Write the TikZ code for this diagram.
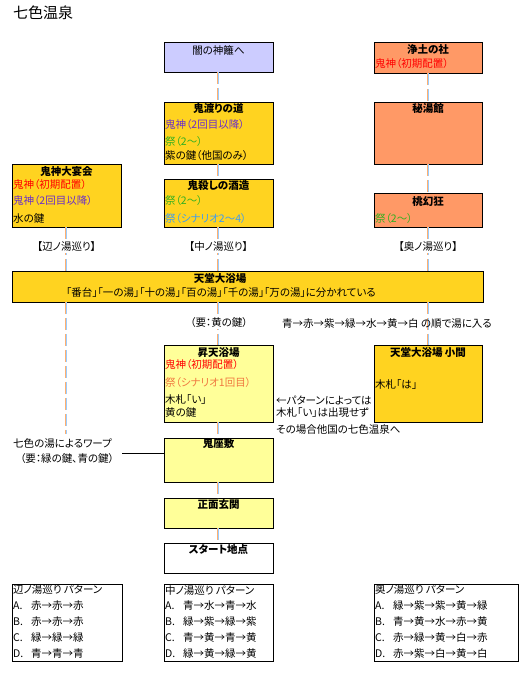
\documentclass[tikz,border=0pt]{standalone}
\usepackage{fontspec}
\setmainfont[RawFeature=+palt]{Noto Sans CJK JP}
\definecolor{gold}{HTML}{FFD320}
\definecolor{lav}{HTML}{CCCCFF}
\definecolor{salmon}{HTML}{FF9966}
\definecolor{lyel}{HTML}{FFFF99}
\definecolor{tred}{HTML}{FF0000}
\definecolor{tpur}{HTML}{6B2FC8}
\definecolor{tgrn}{HTML}{33B020}
\definecolor{tblu}{HTML}{3F9CF0}
\definecolor{torg}{HTML}{F07840}
\definecolor{corange}{HTML}{FFB070}
\definecolor{cblue}{HTML}{99CCFF}
\tikzset{
  box/.style={draw=black, line width=1pt, inner sep=0pt, outer sep=0pt, anchor=north west},
  ttl/.style={inner sep=0pt, font=\fontsize{10.5}{12}\selectfont\bfseries},
  plain/.style={inner sep=0pt, font=\fontsize{10.5}{12}\selectfont},
  ln/.style={inner sep=0pt, anchor=west, font=\fontsize{10.5}{12}\selectfont},
  lbl/.style={fill=white, inner sep=1pt, font=\fontsize{10.5}{12}\selectfont},
  lo/.style={draw=corange, line width=1pt, dash pattern=on 12pt off 4pt, transform canvas={xshift=#1}},
  lb/.style={draw=cblue, line width=1pt, dash pattern=on 12pt off 4pt, transform canvas={xshift=#1}},
}
% columns centred on x.5 (left, middle)
\newcommand\twoline[2]{\draw[lo=-1pt] #1 -- #2; \draw[lb=0pt] #1 -- #2;}
% columns centred on an integer x (right)
\newcommand\twolineR[2]{\draw[lo=-0.5pt] #1 -- #2; \draw[lb=0.5pt] #1 -- #2;}
\begin{document}
\begin{tikzpicture}[x=1pt,y=-1pt]
\useasboundingbox[fill=white] (0,0) rectangle (530,673);
% title
\node[anchor=west, inner sep=0pt, font=\fontsize{15}{17}\selectfont] (title) at (13,13) {七色温泉};

% boxes
\node[box, fill=lav, minimum width=109pt, minimum height=30pt] (yami) at (164,42) {};
\node[box, fill=gold, minimum width=109pt, minimum height=62pt] (watari) at (164,102) {};
\node[box, fill=gold, minimum width=109pt, minimum height=48pt] (sake) at (164,179) {};
\node[box, fill=gold, minimum width=109pt, minimum height=63pt] (enkai) at (12,164) {};
\node[box, fill=salmon, minimum width=108pt, minimum height=31pt] (joudo) at (374,42) {};
\node[box, fill=salmon, minimum width=108pt, minimum height=62pt] (hitou) at (374,102) {};
\node[box, fill=salmon, minimum width=108pt, minimum height=34pt] (tougen) at (374,193) {};
\node[box, fill=gold, minimum width=471pt, minimum height=31pt] (tendou) at (12,271) {};
\node[box, fill=lyel, minimum width=109pt, minimum height=77pt] (shouten) at (164,345) {};
\node[box, fill=gold, minimum width=108pt, minimum height=77pt] (koma) at (374,345) {};
\node[box, fill=lyel, minimum width=109pt, minimum height=44pt] (zashiki) at (164,438) {};
\node[box, fill=lyel, minimum width=109pt, minimum height=30pt] (genkan) at (164,498) {};
\node[box, fill=white, minimum width=109pt, minimum height=30pt] (start) at (164,543) {};
\node[box, fill=white, minimum width=110pt, minimum height=77pt] (tabA) at (12,584) {};
\node[box, fill=white, minimum width=109pt, minimum height=77pt] (tabB) at (164,584) {};
\node[box, fill=white, minimum width=144pt, minimum height=77pt] (tabC) at (374,584) {};

% connectors
\coordinate (leftend) at (66.5,434);
\twoline{(yami.south)}{(watari.north)}
\twoline{(watari.south)}{(sake.north)}
\twoline{(sake.south)}{(tendou.north -| sake.south)}
\twoline{(tendou.south -| shouten.north)}{(shouten.north)}
\twoline{(shouten.south)}{(zashiki.north)}
\twoline{(zashiki.south)}{(genkan.north)}
\twoline{(genkan.south)}{(start.north)}
\twoline{(enkai.south)}{(tendou.north -| enkai.south)}
\twoline{(tendou.south -| leftend)}{(leftend)}
\twolineR{(joudo.south)}{(hitou.north)}
\twolineR{(hitou.south)}{(tougen.north)}
\twolineR{(tougen.south)}{(tendou.north -| tougen.south)}
\twolineR{(tendou.south -| koma.north)}{(koma.north)}

% labels on connectors
\node[lbl] (lblA) at (66.5,247) {【辺ノ湯巡り】};
\node[lbl] (lblB) at (218.5,247) {【中ノ湯巡り】};
\node[lbl] (lblC) at (428,247) {【奥ノ湯巡り】};
\node[lbl] (needY) at (219,323) {（要：黄の鍵）};
\node[ln] (order) at (282,324) {青→赤→紫→緑→水→黄→白 の順で湯に入る};

% texts: yami
\node[plain] (yami-t) at (218.5,50.7) {闇の神籬へ};
% watari
\node[ttl] (watari-t) at (218.5,108.5) {鬼渡りの道};
\node[ln, text=tpur] (watari-1) at (165,125) {鬼神（2回目以降）};
\node[ln, text=tgrn] (watari-2) at (165,141.7) {祭（2〜）};
\node[ln] (watari-3) at (165,155.5) {紫の鍵（他国のみ）};
% sake
\node[ttl] (sake-t) at (218.5,185) {鬼殺しの酒造};
\node[ln, text=tgrn] (sake-1) at (165,201) {祭（2〜）};
\node[ln, text=tblu] (sake-2) at (165,218.3) {祭（シナリオ2〜4）};
% enkai
\node[ttl] (enkai-t) at (66.5,171) {鬼神大宴会};
\node[ln, text=tred] (enkai-1) at (13,184.3) {鬼神（初期配置）};
\node[ln, text=tpur] (enkai-2) at (13,201) {鬼神（2回目以降）};
\node[ln] (enkai-3) at (13,218.3) {水の鍵};
% joudo
\node[ttl] (joudo-t) at (428,50) {浄土の社};
\node[ln, text=tred] (joudo-1) at (375,63.3) {鬼神（初期配置）};
% hitou
\node[ttl] (hitou-t) at (428,109) {秘湯館};
% tougen
\node[ttl] (tougen-t) at (428,201.7) {桃幻狂};
\node[ln, text=tgrn] (tougen-1) at (375,219) {祭（2〜）};
% tendou
\node[ttl] (tendou-t) at (220,278.5) {天堂大浴場};
\node[plain] (tendou-1) at (221,292.5) {「番台」「一の湯」「十の湯」「百の湯」「千の湯」「万の湯」に分かれている};
% shouten
\node[ttl] (shouten-t) at (218.5,352) {昇天浴場};
\node[ln, text=tred] (shouten-1) at (165,365) {鬼神（初期配置）};
\node[ln, text=torg] (shouten-2) at (165,383) {祭（シナリオ1回目）};
\node[ln] (shouten-3) at (165,400) {木札「い」};
\node[ln] (shouten-4) at (165,413) {黄の鍵};
% koma
\node[ttl] (koma-t) at (428,352) {天堂大浴場 小間};
\node[ln] (koma-1) at (375,384.4) {木札「は」};
% annotation
\node[ln] (note-1) at (276,400) {←パターンによっては};
\node[ln] (note-2) at (276,413) {木札「い」は出現せず};
\node[ln] (note-3) at (276,429) {その場合他国の七色温泉へ};
% lower boxes
\node[ttl] (zashiki-t) at (218.5,443.5) {鬼座敷};
\node[ttl] (genkan-t) at (218.5,504.5) {正面玄関};
\node[ttl] (start-t) at (218.5,549) {スタート地点};
% warp
\node[ln] (warp-1) at (13,443) {七色の湯によるワープ};
\node[ln] (warp-2) at (20,459) {（要：緑の鍵、青の鍵）};
\coordinate (warpend) at (122,453);
\draw[line width=1pt] (warpend) -- (warpend -| zashiki.west);

% tables
\node[ln] (tabA-t) at (13,590) {辺ノ湯巡り パターン};
\node[ln] (tabA-a) at (13,606) {A.};
\node[ln] (tabA-b) at (13,622) {B.};
\node[ln] (tabA-c) at (13,638) {C.};
\node[ln] (tabA-d) at (13,654) {D.};
\node[ln] (tabA-1) at (31,606) {赤→赤→赤};
\node[ln] (tabA-2) at (31,622) {赤→赤→赤};
\node[ln] (tabA-3) at (31,638) {緑→緑→緑};
\node[ln] (tabA-4) at (31,654) {青→青→青};

\node[ln] (tabB-t) at (165,590) {中ノ湯巡り パターン};
\node[ln] (tabB-a) at (165,606) {A.};
\node[ln] (tabB-b) at (165,622) {B.};
\node[ln] (tabB-c) at (165,638) {C.};
\node[ln] (tabB-d) at (165,654) {D.};
\node[ln] (tabB-1) at (183,606) {青→水→青→水};
\node[ln] (tabB-2) at (183,622) {緑→紫→緑→紫};
\node[ln] (tabB-3) at (183,638) {青→黄→青→黄};
\node[ln] (tabB-4) at (183,654) {緑→黄→緑→黄};

\node[ln] (tabC-t) at (375,590) {奥ノ湯巡り パターン};
\node[ln] (tabC-a) at (375,606) {A.};
\node[ln] (tabC-b) at (375,622) {B.};
\node[ln] (tabC-c) at (375,638) {C.};
\node[ln] (tabC-d) at (375,654) {D.};
\node[ln] (tabC-1) at (393,606) {緑→紫→紫→黄→緑};
\node[ln] (tabC-2) at (393,622) {青→黄→水→赤→黄};
\node[ln] (tabC-3) at (393,638) {赤→緑→黄→白→赤};
\node[ln] (tabC-4) at (393,654) {赤→紫→白→黄→白};
\end{tikzpicture}
\end{document}
